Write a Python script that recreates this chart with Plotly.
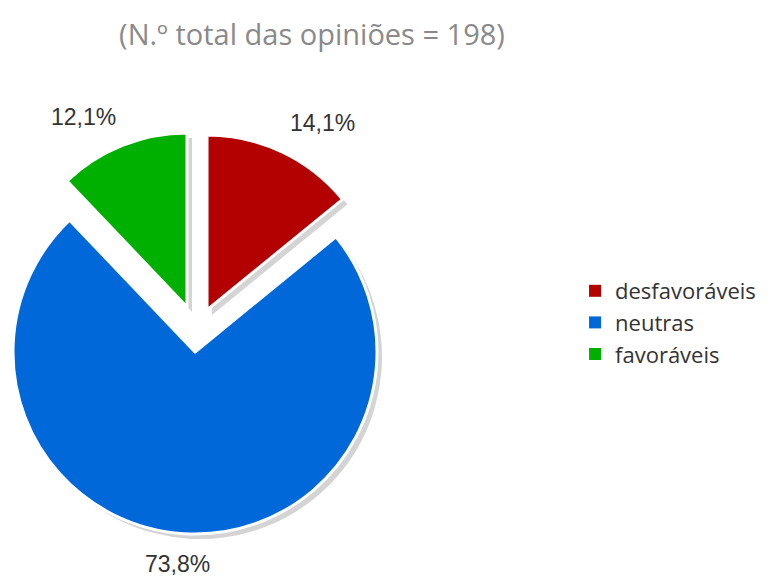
import math
import plotly.graph_objects as go

# ---- data ----
categories = ["desfavoráveis", "neutras", "favoráveis"]
shares = [14.1, 73.8, 12.1]          # % of N = 198 opinions
colors = ["#B30000", "#0068D9", "#00B000"]
title_text = "(N.º total das opiniões = 198)"

# ---- layout geometry (pixels) ----
W, H = 775, 581
centers = [(207, 310), (195, 352), (187, 307)]   # exploded piece centres
radii = [175, 182, 174]
shadow_dx, shadow_dy = 5, 5
label_gap = 16
clear = "rgba(0,0,0,0)"
n = len(categories)


def domain(cx, cy, r):
    return dict(x=[(cx - r) / W, (cx + r) / W],
                y=[1 - (cy + r) / H, 1 - (cy - r) / H])


fig = go.Figure()

# shadows
for i in range(n):
    cx, cy = centers[i]
    fig.add_trace(go.Pie(
        labels=categories, values=shares, sort=False, direction="clockwise", rotation=0,
        marker=dict(colors=["#d4d4d4" if j == i else clear for j in range(n)]),
        textinfo="none", hoverinfo="skip", showlegend=False,
        domain=domain(cx + shadow_dx, cy + shadow_dy, radii[i])))

# coloured pieces
for i in range(n):
    cx, cy = centers[i]
    fig.add_trace(go.Pie(
        labels=categories, values=shares, sort=False, direction="clockwise", rotation=0,
        marker=dict(colors=[colors[j] if j == i else clear for j in range(n)],
                    line=dict(color=["white" if j == i else clear for j in range(n)], width=3)),
        textinfo="none",
        hovertemplate="%{label}: %{value}%<extra></extra>",
        showlegend=False,
        domain=domain(cx, cy, radii[i])))

# percentage labels, placed outside along each slice's bisector
total = sum(shares)
cum = 0.0
for i in range(n):
    cx, cy = centers[i]
    theta = 2 * math.pi * (cum + shares[i] / 2) / total
    cum += shares[i]
    sx, sy = math.sin(theta), -math.cos(theta)
    rr = radii[i] + label_gap
    px, py = cx + sx * rr, cy + sy * rr
    xa = "left" if sx > 0.3 else ("right" if sx < -0.3 else "center")
    ya = "bottom" if sy < 0 else "top"
    txt = f"{shares[i] / total * 100:.1f}".replace(".", ",") + "%"
    fig.add_annotation(x=px / W, y=1 - py / H, xref="paper", yref="paper",
                       text=txt, showarrow=False, xanchor=xa, yanchor=ya,
                       xshift=-5 if xa == "center" else 0,
                       borderpad=0,
                       font=dict(family="Liberation Sans, Arial", size=23, color="#333333"))

# legend entries
for cat, col in zip(categories, colors):
    fig.add_trace(go.Scatter(x=[None], y=[None], mode="markers", name=cat,
                             marker=dict(symbol="square", size=12, color=col)))

fig.update_layout(
    width=W, height=H,
    margin=dict(l=0, r=0, t=0, b=0),
    paper_bgcolor="white", plot_bgcolor="white",
    xaxis=dict(visible=False), yaxis=dict(visible=False),
    title=dict(text=title_text, x=312 / W, xanchor="center", xref="paper",
               y=1 - 35 / H, yanchor="middle", yref="container",
               font=dict(family="Open Sans", size=29, color="#8a8a8a")),
    legend=dict(x=0.742, y=1 - 270 / H, xanchor="left", yanchor="top",
                font=dict(family="Open Sans", size=22, color="#333333"),
                bgcolor="rgba(0,0,0,0)"),
)

fig.write_html("out.html", config={"displayModeBar": False},
               post_script="document.body.style.margin='0';")
